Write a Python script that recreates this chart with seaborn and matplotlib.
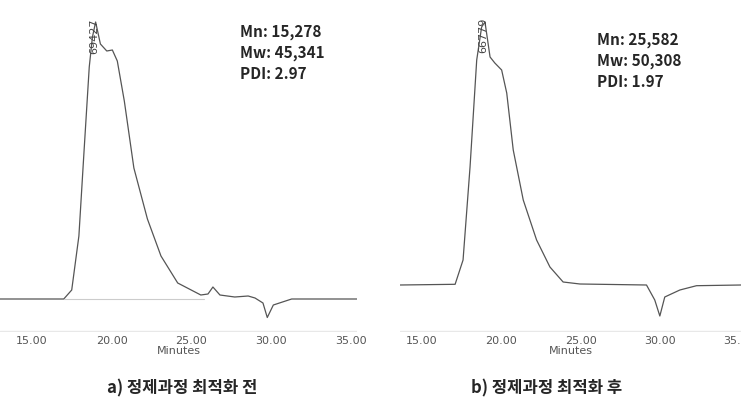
import matplotlib.pyplot as plt
import seaborn as sns
import pandas as pd

# GPC traces (minutes, detector response in px units)
t_before = [13.0, 17.0, 17.5, 17.95, 18.27, 18.6, 18.8, 19.0, 19.3, 19.7, 20.05, 20.36, 20.8, 21.4,
            22.25, 23.1, 24.15, 25.6, 26.05, 26.36, 26.8, 27.73, 28.57, 29.0, 29.5, 29.77, 30.15, 31.3, 35.4]
r_before = [0, 0, 9, 63, 147, 232, 262, 277, 255, 248, 249, 238, 198, 131,
            80, 43, 16, 4, 5, 12, 4, 2, 3, 1, -4, -18.5, -6, 0, 0]
t_after = [13.63, 17.1, 17.6, 18.04, 18.46, 18.77, 18.98, 19.3, 19.6, 20.03, 20.35, 20.76, 21.39,
           22.23, 23.07, 23.9, 24.96, 29.15, 29.67, 29.99, 30.3, 31.25, 32.3, 35.1]
r_after = [0, 0.7, 25, 118, 225, 258, 263, 228, 222, 215, 192, 135, 85,
           45, 18, 3, 1, 0, -15, -31, -12, -5, -0.7, 0]
peak_labels = ["69427", "66779"]
stats = [["Mn: 15,278", "Mw: 45,341", "PDI: 2.97"], ["Mn: 25,582", "Mw: 50,308", "PDI: 1.97"]]
captions = ["a) 정제과정 최적화 전", "b) 정제과정 최적화 후"]
ticks = [15, 20, 25, 30, 35]

sns.set_style("white")
plt.rcParams['font.family'] = ['Noto Sans CJK KR', 'DejaVu Sans']

fig = plt.figure(figsize=(7.41, 4.18), dpi=100)
W, H = 741, 418
ax1 = fig.add_axes([0 / W, 1 - 332 / H, 357 / W, 332 / H])
ax2 = fig.add_axes([400 / W, 1 - 332 / H, 341 / W, 332 / H])
setup = [(ax1, t_before, r_before, (13.0, 35.4), (-33, 299), 240, 32, 182),
         (ax2, t_after, r_after, (13.63, 35.1), (-47, 285), 597, 40, 547)]

for i, (ax, t, r, xl, yl, sx, sy, cx) in enumerate(setup):
    df = pd.DataFrame({"min": t, "resp": r})
    sns.lineplot(data=df, x="min", y="resp", ax=ax, color="#555555", linewidth=0.9, sort=False)
    ax.set_xlim(*xl)
    ax.set_ylim(*yl)
    ax.set_xticks(ticks)
    ax.set_xticklabels(["15.00", "20.00", "25.00", "30.00", "35.00"], color="#555555", fontsize=8,
                       family="DejaVu Sans")
    ax.tick_params(axis="x", length=0, pad=3)
    ax.set_yticks([])
    ax.set_ylabel("")
    ax.set_xlabel("Minutes", color="#555555", fontsize=8, family="DejaVu Sans", labelpad=0)
    for s in ax.spines.values():
        s.set_visible(False)
    ax.axhline(yl[0] + 1, color="#e8e8e8", linewidth=1)
    ax.text(18.9, max(r) + 4, peak_labels[i], rotation=90, fontsize=8, color="#444444",
            ha="center", va="top", family="DejaVu Sans")
    for k, line in enumerate(stats[i]):
        fig.text(sx / W, 1 - (sy + k * 21) / H, line, fontsize=11, fontweight="bold", va="center")
    fig.text(cx / W, 1 - 388 / H, captions[i], fontsize=12, fontweight="bold", ha="center", va="center")

ax1.plot([17.0, 25.8], [0, 0], color="#cccccc", linewidth=0.8)

fig.savefig("out.png", dpi=100)
